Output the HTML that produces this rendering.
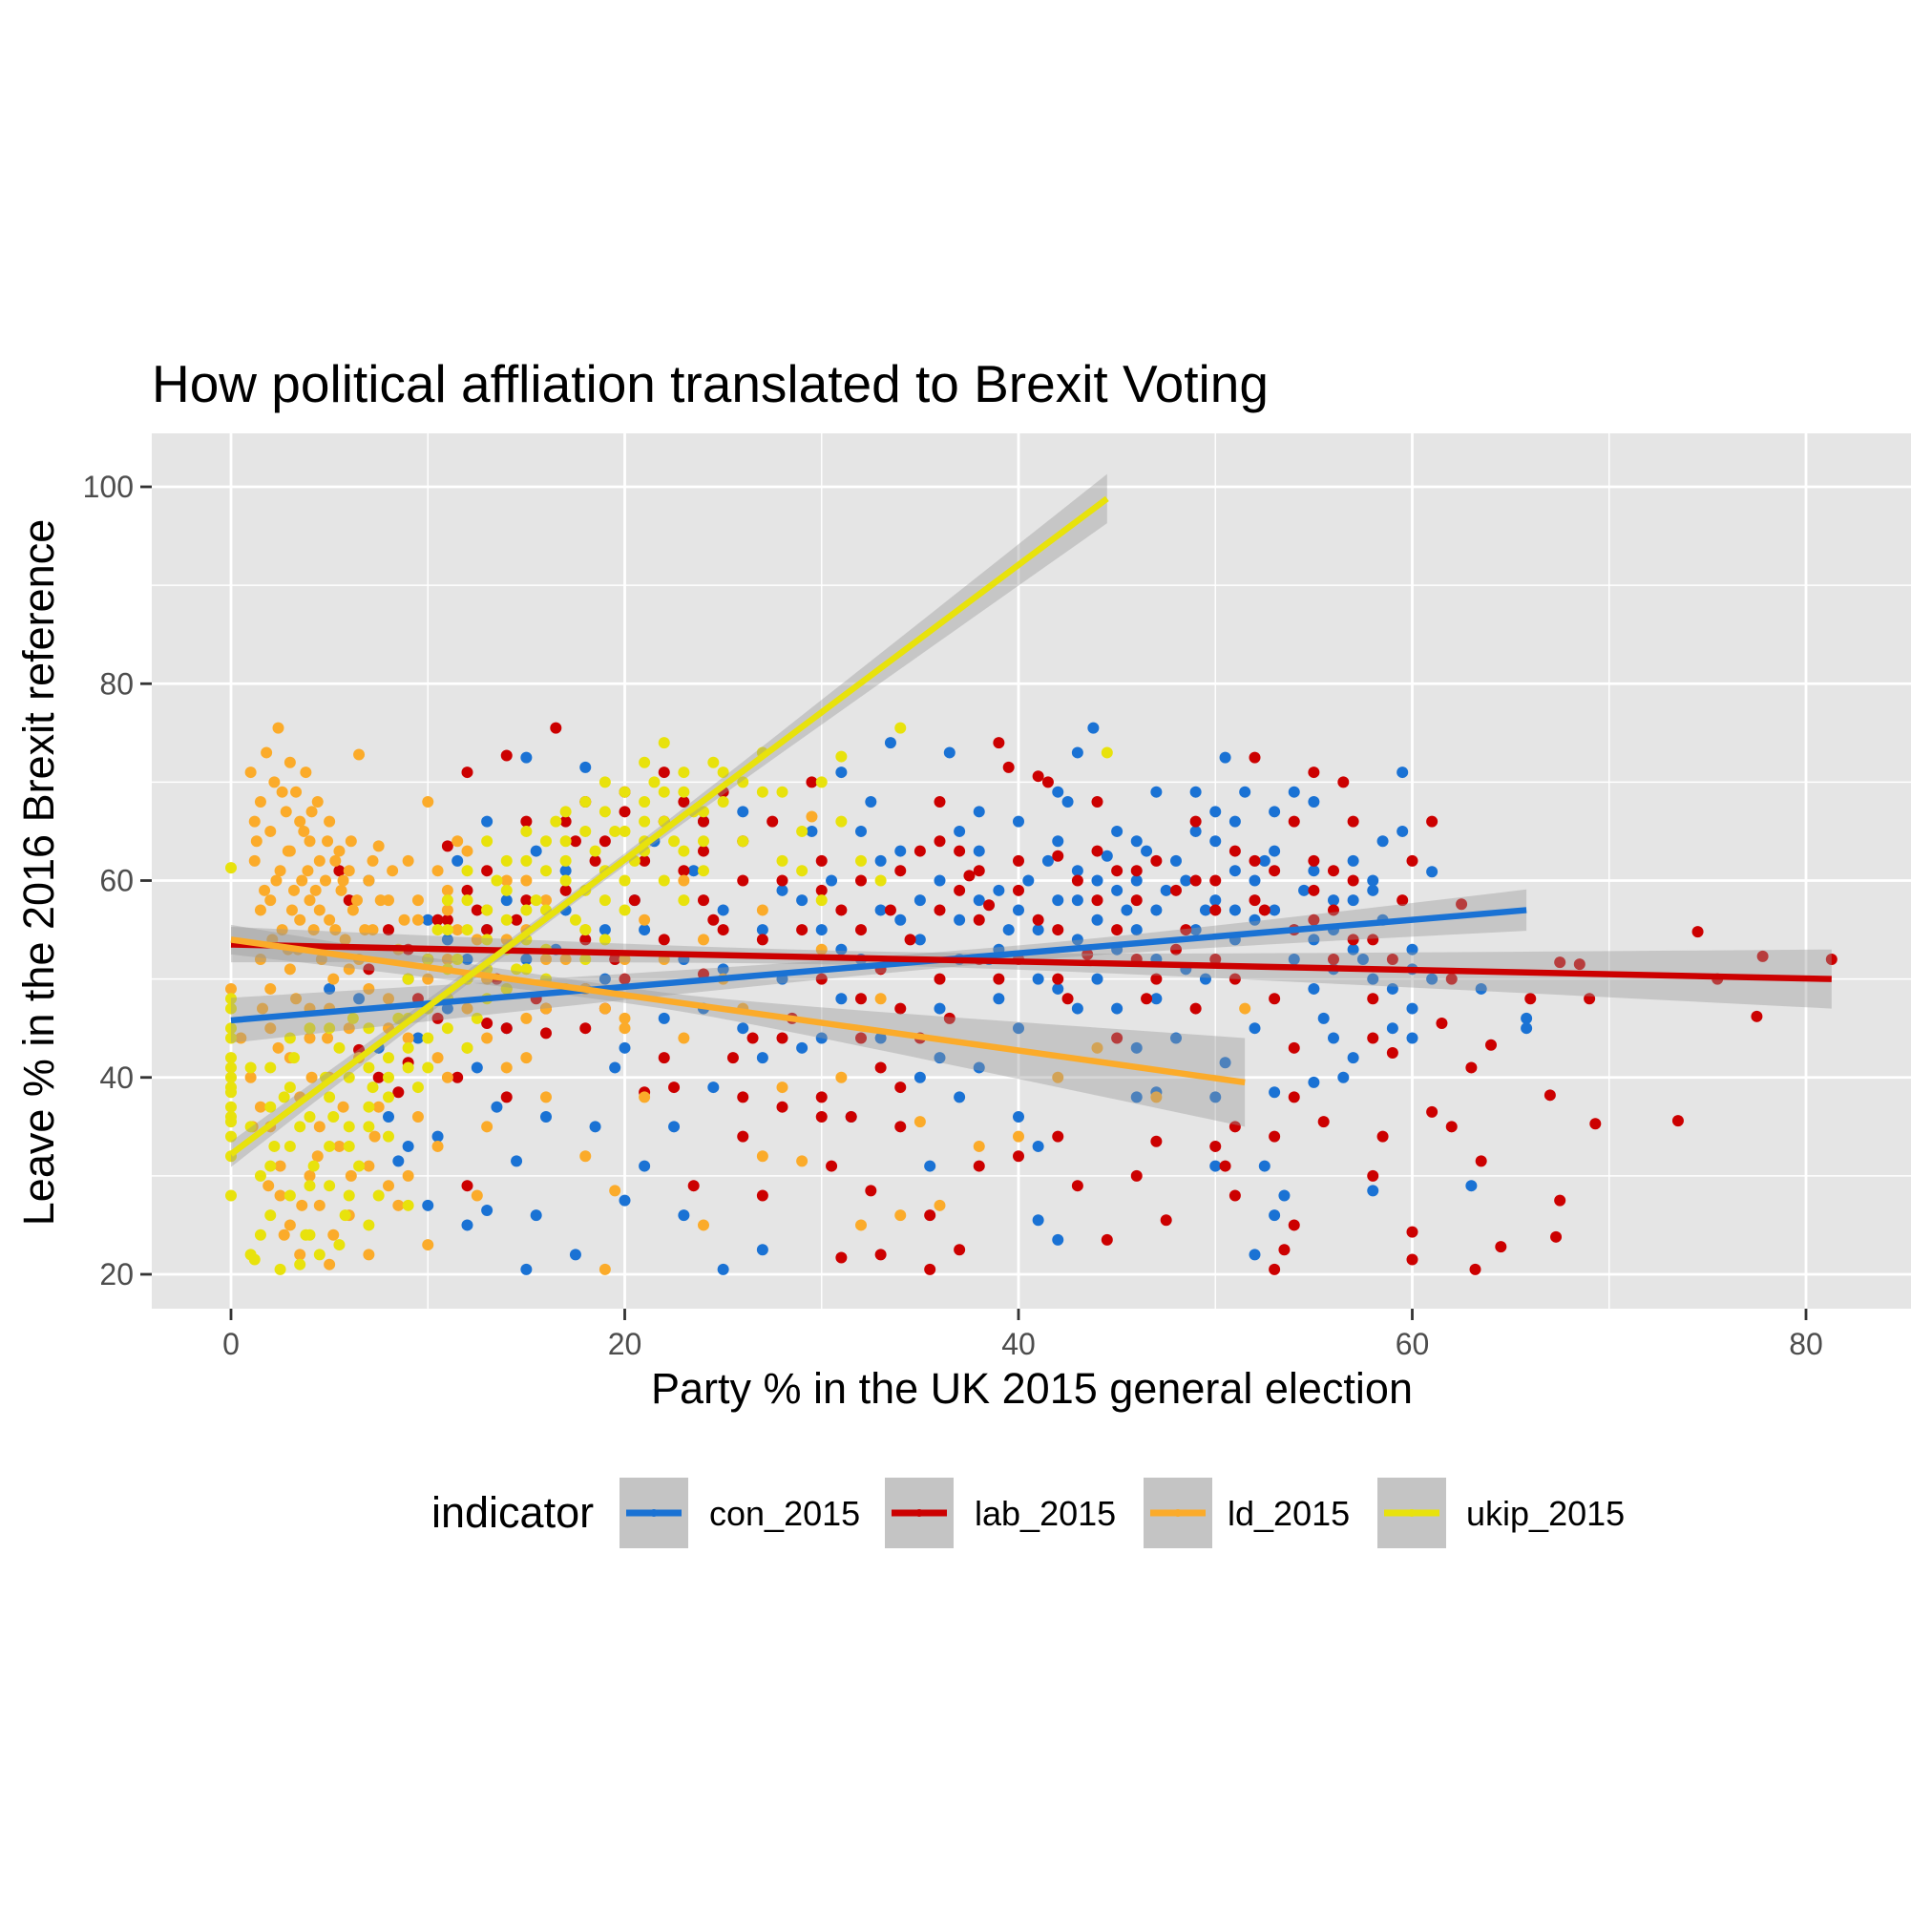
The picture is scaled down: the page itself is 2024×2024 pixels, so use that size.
<!DOCTYPE html>
<html><head><meta charset="utf-8"><style>
html,body{margin:0;padding:0;background:#fff;}
svg{display:block;font-family:"Liberation Sans",Arial,sans-serif;}
</style></head><body>
<svg id="chart" width="2024" height="2024" viewBox="0 0 2024 2024">
<defs><clipPath id="pc"><rect x="159" y="454" width="1843" height="917"/></clipPath></defs>
<rect x="0" y="0" width="2024" height="2024" fill="#fff"/>
<text x="159" y="421" font-size="55" fill="#000">How political affliation translated to Brexit Voting</text>
<rect x="159" y="454" width="1843" height="917" fill="#e5e5e5"/>
<g id="grid"></g>
<g id="points" clip-path="url(#pc)"></g>
<g id="fits" clip-path="url(#pc)"></g>
<g id="axes"></g>
<text x="1081" y="1470" font-size="45" text-anchor="middle" fill="#000">Party % in the UK 2015 general election</text>
<text transform="translate(56,914) rotate(-90)" font-size="45" text-anchor="middle" fill="#000">Leave % in the 2016 Brexit reference</text>
<g id="legend">
<text x="452" y="1600" font-size="45" fill="#000">indicator</text>
</g>
</svg>
<script>
const xTicks=[0,20,40,60,80];
const yTicks=[20,40,60,80,100];
const seriesNames=["con_2015","lab_2015","ld_2015","ukip_2015"];
const seriesColors=["#1a72d4","#cc0000","#fbab2a","#e8e20c"];
const conPts=[[65.8,45],[65.8,46],[63.5,49],[63,29],[61,60.9],[60,53],[60,47],[59.5,71],[59.5,65],[59,45],[58.5,56],[58,28.5],[58,59],[57.5,52],[57,42],[56.5,40],[56,58],[55.5,46],[55,68],[55,39.5],[54,55],[53.5,28],[53,38.5],[52.5,62],[52.5,31],[52,22],[51,61],[51.5,69],[50.5,72.5],[50,64],[50,31],[49.5,57],[49,69],[48.5,60],[48,44],[47,69],[46.5,63],[46,38],[45.5,57],[45,65],[44,60],[43.8,75.5],[43,73],[43,54],[42.5,68],[42,49],[42,23.5],[41.5,62],[41,33],[41,25.5],[40,66],[40,45],[39.5,55],[38.5,52],[38,58],[37,65],[36.5,73],[36,47],[35.5,31],[35,58],[34,56],[33.5,74],[33,44],[32.5,68],[32,52],[31.5,36],[31,71],[30.5,60],[30,55],[29.5,65],[29,43],[28,59],[27,42],[27,22.5],[26,67],[25,51],[25,20.5],[24.5,39],[24,66],[23.5,61],[23,26],[22.5,35],[22,46],[21.5,64],[21,31],[20.5,58],[20,43],[20,27.5],[19.5,41],[19,50],[18.5,35],[18,71.5],[17.5,22],[17,61],[16.5,53],[16,36],[15.5,63],[15,72.5],[15,20.5],[14.5,31.5],[14,58],[14,45],[13.5,37],[13,66],[12.5,41],[12,52],[12,25],[11.5,62],[11,47],[10.5,34],[10,56],[10,27],[9.5,44],[9,33],[8.5,31.5],[8,36],[7.5,43],[7,60],[6.5,48],[5,49],[13,26.5],[15.5,26],[35,40],[37,38],[39,48],[44,50],[46,55],[47,52],[48.5,51],[49.5,50],[51,54],[52,56],[53,57],[54.5,59],[56,51],[57,62],[44.5,62.5],[43,58],[45,47],[50.5,41.5],[26,45],[28,50],[31,48],[33,62],[38,41],[40.5,60],[42,64],[47.5,59],[55,49],[58.5,64],
[36,60],[37,56],[38,63],[39,59],[40,57],[41,55],[42,58],[43,61],[44,56],[45,59],[46,60],[47,57],[48,62],[49,55],[50,58],[51,57],[52,60],[53,63],[54,52],[55,54],[56,55],[57,53],[58,50],[59,49],[60,51],[61,50],[45,53],[47,48],[49,65],[51,66],[53,67],[55,61],[57,58],[43,47],[41,50],[39,53],[37,52],[35,54],[33,57],[31,53],[29,58],[27,55],[25,57],[23,52],[21,55],[19,55],[17,57],[15,52],[13,55],[11,54],[9,50],[24,47],[30,44],[36,42],[46,43],[52,45],[56,44],[60,44],[32,65],[34,63],[38,67],[42,69],[46,64],[50,67],[54,69],[58,60],[50,38],[47,38.5],[53,26],[40,36]];
const labPts=[[81.3,52],[77.8,52.3],[77.5,46.2],[74.5,54.8],[75.5,50],[73.5,35.6],[69.3,35.3],[69,48],[68.5,51.5],[67.5,27.5],[67.3,23.8],[67,38.2],[67.5,51.7],[64.5,22.8],[64,43.3],[63.2,20.5],[63.5,31.5],[63,41],[62.5,57.6],[61.5,45.5],[61,36.5],[61,66],[60,21.5],[60,24.3],[59.5,58],[59,42.5],[58.5,34],[58,54],[57,66],[56.5,70],[56,52],[55.5,35.5],[55,62],[55,71],[54,43],[54,25],[53.5,22.5],[53,20.5],[53,34],[52.5,57],[52,72.5],[51,28],[51,35],[50.5,31],[50,52],[49,66],[48.5,55],[48,59],[47.5,25.5],[47,33.5],[46.5,48],[46,61],[45,55],[44.5,23.5],[44,68],[43.5,52.5],[43,29],[42.5,48],[42,62.5],[41.5,70],[41,70.6],[40,32],[40,59],[39.5,71.5],[39,74],[38.5,57.5],[38,52],[37.5,60.5],[37,22.5],[36.5,46],[36,68],[35.5,26],[35.5,20.5],[35,63],[34.5,54],[34,39],[33.5,57],[33,22],[32.5,28.5],[32,48],[31.5,36],[31,21.7],[30.5,31],[30,38],[30,59],[29.5,70],[29,55],[28.5,46],[28,37],[27.5,66],[27,28],[26.5,44],[26,34],[26,64],[25.5,42],[25,69],[24.5,56],[24,50.5],[23.5,29],[23,61],[22.5,39],[22,66],[21,38.5],[20.5,58],[20,69],[19.5,52],[19,47],[18.5,62],[18,54],[17.5,64],[17,59],[16.5,75.5],[16,44.5],[15.5,48],[15,66],[14.5,56],[14,72.7],[13.5,50],[13,45.5],[12.5,57],[12,29],[12,71],[11.5,40],[11,63.5],[10.5,56],[10,52],[9.5,48],[9,41.5],[8.5,38.5],[8,55],[7.5,40],[7,51],[6.5,42.8],[6,58],[5.5,61],[45,44],[47,50],[49,47],[51,50],[53,48],[55,56],[57,60],[42,50],[40,52],[38,56],[36,50],[34,61],[32,44],[30,50],[28,60],[24,58],[22,54],[20,50],[18,49],[16,47],[14,45],[13,55],[12,59],[11,48],[10.5,46],[18,68],[20,67],[22,71],[24,63],[27,54],[33,41],[37,59],[44,58],[46,52],[50,60],[52,62],[54,66],[56,61],[58,48],
[30,62],[31,57],[32,55],[33,51],[34,47],[35,44],[36,57],[37,63],[38,61],[39,50],[40,62],[41,56],[42,55],[43,60],[44,63],[45,61],[46,58],[47,62],[48,53],[49,60],[50,57],[51,63],[52,58],[53,61],[54,55],[55,59],[56,57],[57,54],[58,44],[59,52],[60,62],[62,50],[26,60],[25,55],[24,66],[23,68],[21,62],[19,64],[17,66],[15,58],[13,61],[11,56],[9,53],[14,38],[18,45],[22,42],[26,38],[30,36],[34,35],[38,31],[42,34],[46,30],[50,33],[54,38],[58,30],[62,35],[66,48],[28,44],[32,60],[36,64]];
const ldPts=[[0,49],[1,71],[1.2,62],[1.5,68],[1.8,73],[2,65],[2,58],[2.2,70],[2.4,75.5],[2.5,61],[2.6,55],[2.8,67],[3,72],[3,63],[3.1,57],[3.3,69],[3.4,53],[3.5,66],[3.6,60],[3.8,71],[4,64],[4,58],[4.2,55],[4.4,68],[4.5,62],[4.6,52],[4.8,60],[5,66],[5,56],[5.2,50],[5.5,63],[5.6,59],[5.8,54],[6,61],[6.2,57],[6.5,72.8],[6.5,52],[7,60],[7.2,55],[7.5,63.5],[8,58],[8.5,53],[9,62],[9.5,56],[10,68],[10,50],[11,59],[11.5,55],[12,63],[12.5,54],[13,57],[14,60],[15,55],[16,58],[17,52],[18,49],[19,47],[20,46],[0.5,44],[1,40],[1.5,37],[2,45],[2,35],[2.5,28],[2.5,31],[3,42],[3,25],[3.5,38],[3.5,22],[4,44],[4,30],[4.5,35],[4.5,27],[5,21],[5,40],[5.5,33],[6,26],[6,45],[7,31],[7,22],[7.5,37],[8,48],[8.5,27],[9,44],[9.5,36],[10,23],[10.5,33],[11,40],[12,47],[12.5,28],[13,35],[14,41],[15,46],[16,38],[17,49],[18,32],[19,20.5],[19.5,28.5],[20,45],[21,38],[22,52],[23,44],[24,25],[25,50],[26,47],[27,32],[28,39],[29,31.5],[29.5,66.5],[30,53],[31,40],[32,25],[33,48],[34,26],[35,35.5],[36,27],[38,33],[40,34],[42,40],[44,43],[47,38],[51.5,47],[2,49],[4,47],[6,51],[8,45],[3,51],[1.5,52],[5,47],[7,49],[9,50],[11,52],[13,50],[16,47],[21,56],[23,60],[15,60],[11,57],[12,43],[14,49],[1.5,57],[2.3,60],[3.7,65],[4.3,59],[2.9,53],[5.3,62],[1.2,66],
[1.3,64],[1.7,59],[2.1,54],[2.6,69],[2.9,63],[3.2,59],[3.5,56],[3.9,61],[4.1,67],[4.5,57],[4.9,64],[5.3,55],[5.7,60],[6.1,64],[6.4,58],[6.8,55],[7.2,62],[7.6,58],[8.2,61],[8.8,56],[1.6,47],[2.4,43],[3.3,48],[4.1,40],[4.9,44],[5.7,37],[6.5,42],[7.3,34],[1.1,35],[1.9,29],[2.7,24],[3.6,27],[4.4,32],[5.2,24],[6.1,30],[8,29],[9,30],[10.5,42],[12,50],[14,54],[16,52],[18,55],[20,52],[24,54],[27,57],[13,44],[15,42],[9.5,58],[10.5,61],[11.5,64]];
const ukipPts=[[0,61.3],[0,48],[0,44],[0,42],[0,40],[0,38.5],[0,37],[0,35.5],[0,34],[0,32],[0,28],[0,47],[0,45],[0,41],[0,39],[0,36],[1,22],[1.2,21.5],[1.5,30],[2,26],[2.2,33],[2.5,20.5],[2.7,38],[3,28],[3.2,42],[3.5,35],[3.8,24],[4,45],[4.2,31],[4.5,22],[4.8,40],[5,29],[5.2,36],[5.5,43],[5.8,26],[6,33],[6.2,46],[6.5,31],[7,35],[7.2,39],[7.5,28],[8,42],[8.5,46],[9,50],[9.5,39],[10,44],[10.5,55],[11,48],[11.5,52],[12,58],[12.5,46],[13,54],[13.5,60],[14,56],[14.5,51],[15,62],[15.5,58],[16,53],[16.5,66],[17,60],[17.5,56],[18,68],[18.5,63],[19,58],[19.5,65],[20,69],[20.5,62],[21,66],[21.5,70],[22,74],[22.5,64],[23,71],[23.5,67],[24,61],[24.5,72],[25,68],[26,64],[27,73],[28,69],[29,65],[30,70],[31,72.6],[32,62],[33,60],[34,75.5],[44.5,73],[12,50],[13,48],[14,53],[15,57],[16,61],[17,64],[18,59],[19,61],[20,57],[21,63],[11,55],[10,47],[9,43],[8,38],[7,45],[6,40],[5,38],[4,36],[3,33],[2,31],[14,62],[15,65],[16,57],[17,67],[18,55],[19,54],[13,64],[12,55],[11,51],[22,69],[23,63],[3,44],[5,45],[7,41],[9,41],[10,52],[12,43],[15,51],[17,49],[20,65],[21,68],[23,58],[26,70],[28,62],[1,41],[2,37],[4,24],[6,28],[8,34],
[11,58],[12,61],[13,57],[14,59],[15,54],[16,64],[17,62],[18,65],[19,67],[20,60],[21,64],[22,66],[23,69],[24,64],[25,71],[14,49],[16,50],[18,52],[13,51],[11,45],[10,41],[9,46],[8,40],[7,37],[6,35],[5,33],[4,29],[3,39],[2,41],[1,35],[1.5,24],[3.5,21],[5.5,23],[7,25],[9,27],[19,70],[21,72],[22,60],[24,67],[27,69],[29,61],[30,58],[31,66]];
// fit lines: [x0, y0, x1, y1]
const conFit=[0,45.8,65.8,57];
const labFit=[0,53.5,81.3,50];
const ldFit=[0,54,51.5,39.5];
const ukipFit=[0,32.2,44.5,98.8];
// CI half-widths: [at start, minimum, at end]
const conCI=[2.3,0.8,2.1];
const labCI=[1.8,0.7,3];
const ldCI=[1.5,0.8,4.5];
const ukipCI=[1.3,0.6,2.5];

const NS="http://www.w3.org/2000/svg";
const X=v=>242+20.625*v;
const Y=v=>510+(100-v)*10.3125;
function mk(tag,attrs,parent){const e=document.createElementNS(NS,tag);for(const k in attrs)e.setAttribute(k,attrs[k]);parent.appendChild(e);return e;}
const grid=document.getElementById('grid'),axes=document.getElementById('axes');
for(let v=-10;v<=90;v+=10){const px=X(v);if(px<159||px>2002)continue;const major=v%20===0;
 const l=mk('line',{x1:px,x2:px,y1:454,y2:1371,stroke:'#fff','stroke-width':major?2.8:1.4},grid);
 
 }
for(let v=10;v<=110;v+=10){const py=Y(v);if(py<454||py>1371)continue;const major=v%20===0;
 const l=mk('line',{x1:159,x2:2002,y1:py,y2:py,stroke:'#fff','stroke-width':major?2.8:1.4},grid);
 
 }
xTicks.forEach(v=>{const px=X(v);
 const t=mk('line',{x1:px,x2:px,y1:1371,y2:1383,stroke:'#333','stroke-width':2.8},axes);
 
 
 const tx=mk('text',{x:px,y:1419,'font-size':32,'text-anchor':'middle',fill:'#4d4d4d'},axes);tx.textContent=v;
 
 });
yTicks.forEach(v=>{const py=Y(v);
 const t=mk('line',{x1:147,x2:159,y1:py,y2:py,stroke:'#333','stroke-width':2.8},axes);
 
 
 const tx=mk('text',{x:140,y:py+11,'font-size':32,'text-anchor':'end',fill:'#4d4d4d'},axes);tx.textContent=v;
 
 });
const pg=document.getElementById('points');
const allPts=[conPts,labPts,ldPts,ukipPts];
allPts.forEach((pts,i)=>{const g=mk('g',{fill:seriesColors[i]},pg);
 
 
 pts.forEach(p=>{const c=mk('circle',{cx:X(p[0]),cy:Y(p[1]),r:6},g);
  
  });});
const fg=document.getElementById('fits');
const fits=[conFit,labFit,ldFit,ukipFit],cis=[conCI,labCI,ldCI,ukipCI];
fits.forEach((f,i)=>{const ci=cis[i];const [x0,y0,x1,y1]=f;const n=40;
 const xm=x0+(x1-x0)*(ci[0]>=ci[2]?0.6:0.4);
 const hw=x=>{const s=x<=xm?ci[0]:ci[2];const e=x<=xm?(x0-xm):(x1-xm);const a=ci[1]*ci[1];const b=(s*s-a)/(e*e);return Math.sqrt(a+b*(x-xm)*(x-xm));};
 const yl=x=>y0+(y1-y0)*(x-x0)/(x1-x0);
 let up=[],dn=[];for(let k=0;k<=n;k++){const x=x0+(x1-x0)*k/n;up.push(X(x)+','+Y(yl(x)+hw(x)));dn.unshift(X(x)+','+Y(yl(x)-hw(x)));}
 const b=mk('polygon',{points:up.concat(dn).join(' '),fill:'#999','fill-opacity':0.4},fg);
 
 });
fits.forEach((f,i)=>{const l=mk('line',{x1:X(f[0]),y1:Y(f[1]),x2:X(f[2]),y2:Y(f[3]),stroke:seriesColors[i],'stroke-width':6.5},fg);
 
 });
const lg=document.getElementById('legend');
const boxX=[649,927,1198,1443],labX=[743,1021,1286,1536];
seriesNames.forEach((nm,i)=>{const g=mk('g',{},lg);
 
 
 mk('rect',{x:boxX[i],y:1548,width:72,height:74,fill:'#c4c4c4'},g);
 mk('line',{x1:boxX[i]+7,x2:boxX[i]+65,y1:1585,y2:1585,stroke:seriesColors[i],'stroke-width':7},g);
 mk('circle',{cx:boxX[i]+36,cy:1585,r:4,fill:seriesColors[i]},g);
 const t=mk('text',{x:labX[i],y:1598,'font-size':36,fill:'#000'},g);t.textContent=nm;});
</script>
</body></html>
